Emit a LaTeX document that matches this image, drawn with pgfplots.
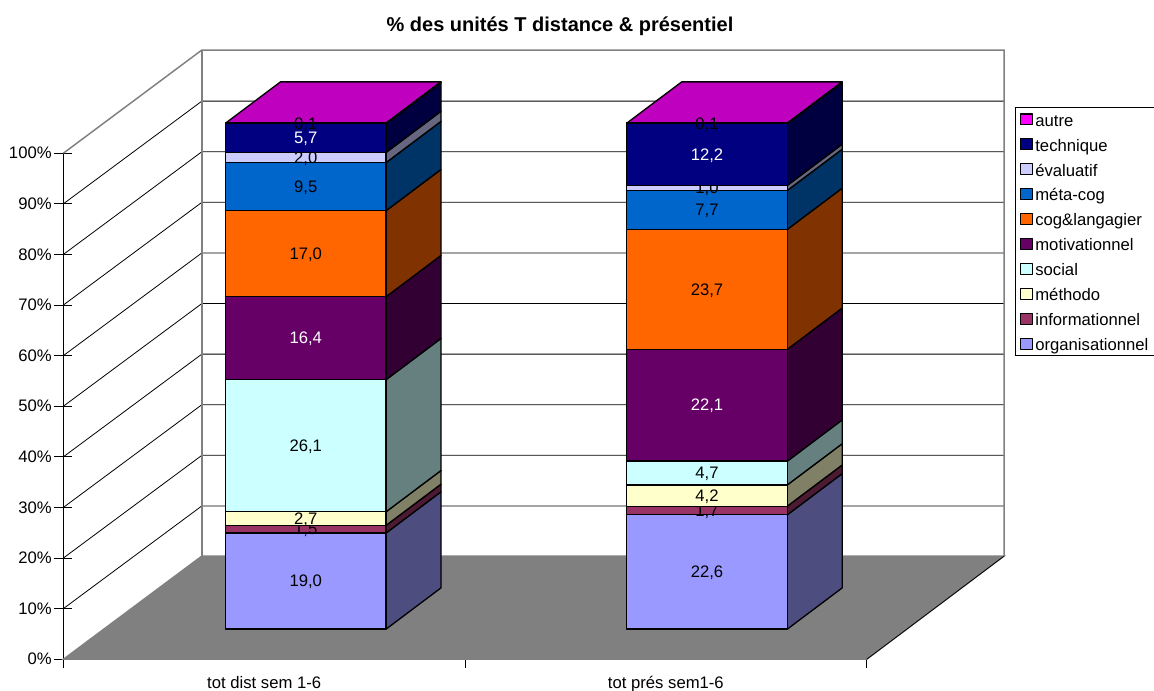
\documentclass[border=0pt]{standalone}
\usepackage{fontspec}
\setmainfont{Liberation Sans}
\usepackage{pgfplots}
\pgfplotsset{compat=1.18}
\definecolor{cOrg}{HTML}{9999FF}\definecolor{sOrg}{HTML}{4D4D80}
\definecolor{cInf}{HTML}{993366}\definecolor{sInf}{HTML}{4D1A33}
\definecolor{cMet}{HTML}{FFFFCC}\definecolor{sMet}{HTML}{808066}
\definecolor{cSoc}{HTML}{CCFFFF}\definecolor{sSoc}{HTML}{668080}
\definecolor{cMot}{HTML}{660066}\definecolor{sMot}{HTML}{330033}
\definecolor{cCog}{HTML}{FF6600}\definecolor{sCog}{HTML}{803300}
\definecolor{cMta}{HTML}{0066CC}\definecolor{sMta}{HTML}{003366}
\definecolor{cEva}{HTML}{CCCCFF}\definecolor{sEva}{HTML}{666680}
\definecolor{cTec}{HTML}{000080}\definecolor{sTec}{HTML}{000040}
\definecolor{cAut}{HTML}{FF00FF}\definecolor{sAut}{HTML}{800080}
\definecolor{tAut}{HTML}{BF00BF}
\definecolor{floorgray}{HTML}{808080}
% geometry of the bars, in axis units
\def\barw{0.3996}\def\depx{0.1369}\def\depy{8.162}\def\base{5.95}
\gdef\cum{0}
\newcommand{\startbar}[1]{\gdef\xl{#1}\gdef\cum{0}}
% #1 extra plot option, #2 front, #3 side, #4 label colour, #5 value, #6 label
\newcommand{\seg}[6]{%
  \pgfmathsetmacro{\yl}{\base+\cum}%
  \pgfmathsetmacro{\yh}{\base+\cum+#5}%
  \pgfmathsetmacro{\xr}{\xl+\barw}%
  \pgfmathsetmacro{\xs}{\xr+\depx}%
  \pgfmathsetmacro{\yls}{\yl+\depy}%
  \pgfmathsetmacro{\yhs}{\yh+\depy}%
  \pgfmathsetmacro{\xc}{\xl+\barw/2}%
  \pgfmathsetmacro{\yc}{(\yl+\yh)/2}%
  \addplot[forget plot,sharp plot,no markers,draw=black,line width=1pt,fill=#3,line join=round]
    coordinates {(\xr,\yl)(\xs,\yls)(\xs,\yhs)(\xr,\yh)} --cycle;
  \addplot[#1,sharp plot,no markers,draw=black,line width=1pt,fill=#2,line join=round]
    coordinates {(\xl,\yl)(\xr,\yl)(\xr,\yh)(\xl,\yh)} --cycle;
  \edef\tmp{\noexpand\node[text=#4,inner sep=0pt,text height=8.6pt,text depth=0pt,font=\noexpand\lab] at (axis cs:\xc,\yc) {#6};}%
  \tmp
  \pgfmathsetmacro{\newcum}{\cum+#5}\xdef\cum{\newcum}%
}
\newcommand{\topface}{%
  \pgfmathsetmacro{\yl}{\base+100}%
  \pgfmathsetmacro{\xr}{\xl+\barw}%
  \pgfmathsetmacro{\xs}{\xr+\depx}%
  \pgfmathsetmacro{\xt}{\xl+\depx}%
  \pgfmathsetmacro{\yhs}{\yl+\depy}%
  \addplot[forget plot,sharp plot,no markers,draw=black,line width=1pt,fill=tAut,line join=round]
    coordinates {(\xl,\yl)(\xr,\yl)(\xs,\yhs)(\xt,\yhs)} --cycle;
}
\newcommand{\lab}{\fontsize{12.5}{14}\selectfont}
\newcommand{\gridl}[2]{\addplot[forget plot,sharp plot,no markers,black,line width=0.6pt]
    coordinates {(0,#1)(0.3448,#2)(2.342,#2)};}
\begin{document}
\begin{tikzpicture}[x=1pt,y=1pt]
\useasboundingbox (0,0) rectangle (865.5,518.25);
\fill[white] (0,0) rectangle (865.5,518.25);
\begin{axis}[
  at={(47.5pt,23.8pt)},anchor=south west,
  scale only axis,width=602.55pt,height=379.5pt,
  xmin=0,xmax=2,ymin=0,ymax=100,clip=false,
  axis x line=bottom,axis y line=left,
  axis line style={-,black,line width=0.8pt},
  xtick={0.5,1.5},xticklabels={tot dist sem 1-6,tot prés sem1-6},
  minor xtick={0,1,2},
  ytick={0,10,20,30,40,50,60,70,80,90,100},
  yticklabels={0\%,10\%,20\%,30\%,40\%,50\%,60\%,70\%,80\%,90\%,100\%},
  tick label style={font=\lab,black},
  major x tick style={draw=none},
  minor x tick style={black,line width=0.8pt},
  minor tick length=13.5pt,
  tickwidth=13.5pt,
  every tick/.style={black,line width=0.8pt},
  y tick style={black,line width=0.8pt},
  x tick label style={yshift=-2.5pt},
  y tick label style={xshift=1.5pt},
  legend style={at={(1.185,1.0909)},anchor=north west,draw=black,line width=0.6pt,
    font=\lab,row sep=5.6pt,inner xsep=3.5pt,inner ysep=2.3pt,
    nodes={inner xsep=2pt,inner ysep=1pt,text height=10.6pt,text depth=0.5pt}},
  legend cell align=left,
  reverse legend,
  legend image code/.code={\draw[#1,line width=0.8pt] (0pt,-4.1pt) rectangle (8.4pt,4.1pt);},
]
% back walls and floor
\addplot[forget plot,sharp plot,no markers,fill=floorgray,draw=floorgray,line width=1pt]
  coordinates {(0,0)(0.3448,20.4)(2.342,20.4)(2,0)} --cycle;
\addplot[forget plot,sharp plot,no markers,black,line width=0.6pt]
  coordinates {(2,0)(2.342,20.4)};
\gridl{10}{30.3}\gridl{20}{40.3}\gridl{30}{50.3}\gridl{40}{60.3}\gridl{50}{70.3}
\gridl{60}{80.3}\gridl{70}{90.3}\gridl{80}{100.3}\gridl{90}{110.3}
\addplot[forget plot,sharp plot,no markers,floorgray,line width=1.1pt]
  coordinates {(0,100)(0.3448,120.4)(2.342,120.4)(2.342,20.4)};
\addplot[forget plot,sharp plot,no markers,floorgray,line width=1.1pt]
  coordinates {(0.3448,120.4)(0.3448,20.4)};
% first bar: tot dist sem 1-6
\startbar{0.4038}
\topface
\seg{}{cOrg}{sOrg}{black}{19.0}{19,0}
\seg{}{cInf}{sInf}{black}{1.5}{1,5}
\seg{}{cMet}{sMet}{black}{2.7}{2,7}
\seg{}{cSoc}{sSoc}{black}{26.1}{26,1}
\seg{}{cMot}{sMot}{white}{16.4}{16,4}
\seg{}{cCog}{sCog}{black}{17.0}{17,0}
\seg{}{cMta}{sMta}{black}{9.5}{9,5}
\seg{}{cEva}{sEva}{black}{2.0}{2,0}
\seg{}{cTec}{sTec}{white}{5.7}{5,7}
\seg{}{cAut}{sAut}{black}{0.1}{0,1}
\legend{organisationnel,informationnel,méthodo,social,motivationnel,cog\&langagier,méta-cog,évaluatif,technique,autre}
% second bar: tot prés sem1-6
\startbar{1.4026}
\topface
\seg{forget plot}{cOrg}{sOrg}{black}{22.6}{22,6}
\seg{forget plot}{cInf}{sInf}{black}{1.7}{1,7}
\seg{forget plot}{cMet}{sMet}{black}{4.2}{4,2}
\seg{forget plot}{cSoc}{sSoc}{black}{4.7}{4,7}
\seg{forget plot}{cMot}{sMot}{white}{22.1}{22,1}
\seg{forget plot}{cCog}{sCog}{black}{23.7}{23,7}
\seg{forget plot}{cMta}{sMta}{black}{7.7}{7,7}
\seg{forget plot}{cEva}{sEva}{black}{1.0}{1,0}
\seg{forget plot}{cTec}{sTec}{white}{12.2}{12,2}
\seg{forget plot}{cAut}{sAut}{black}{0.1}{0,1}
\end{axis}
\node[font=\fontsize{15}{17}\selectfont\bfseries,inner sep=0pt] at (420,498.5) {\% des unités T distance \& présentiel};
\end{tikzpicture}
\end{document}
